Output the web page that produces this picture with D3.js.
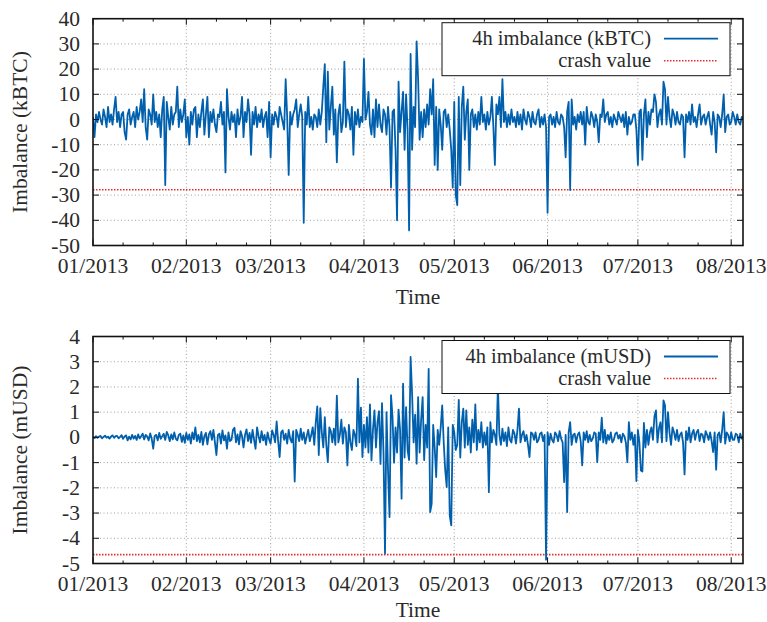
<!DOCTYPE html>
<html lang="en">
<head>
  <meta charset="UTF-8">
  <title>4h imbalance</title>
  <style>
    body { margin: 0; background: #fff; }
    svg text { font-family: "Liberation Serif", "Times New Roman", serif; font-size: 21.5px; fill: #2a2a2a; }
    .grid line { stroke: #a0a0a0; stroke-width: 1; stroke-dasharray: 1,2.5; }
    .series { fill: none; stroke: #0060ad; stroke-width: 1.8; stroke-linejoin: round; }
    .crash { stroke: #e03030; stroke-width: 1.6; stroke-dasharray: 1.5,1.5; }
  </style>
</head>
<body>
  <svg class="chart"></svg>
  <script src="https://cdn.jsdelivr.net/npm/d3@7"></script>
  <script>
    // samples every 12h starting 2013-01-01
    var kbtc = [
      1,-7, 2,-1, 3,0, -2,4, 1,-3, 5,-1, 2,-2, 4,9, -1,3, -3,2,
      3,-5, -8,2, 4,-2, 1,3, -3,5, 0,3, 8,-1, 12,-3, -8,4, 2,-2,
      10,-1, 3,-3, 2,-7, 4,9, -26,7, 1,-4, 5,-2, 2,3, 13,-3, 4,-1,
      2,8, -7,1, -10,3, -2,4, 5,-7, 2,-3, 3,8, -6,2, 9,-7, 3,-1,
      4,-2, -5,2, 1,7, -2,3, -21,12, 1,-4, 3,-1, 2,-7, 4,-2, 1,9,
      -7,3, -1,8, 2,-14, 3,-2, 5,-3, 2,-1, 4,-3, 1,3, -7,7, -15,2,
      -2,3, 1,-3, 5,2, -1,-4, 16,1, -22,3, -2,2, 4,8, -3,2, 6,1,
      -41,3, -2,9, -3,1, -4,2, 1,-3, 4,-2, 3,13, 22,-9, 19,-4, 5,13,
      -6,4, -17,2, 6,-5, -1,23, -3,4, 2,-4, 5,-14, 3,-2, 4,-3, 1,-1,
      24,0, 3,11, -2,-6, 4,-7, 8,-3, 6,-2, -5,4, 2,-6, 5,-3, -27,3,
      4,-12, -40,15, -5,3, 11,-12, 10,-4, -44,26, -12,5, -3,31, 16,-8, 3,-7,
      4,-3, 6,-2, 12,2, 16,-18, 5,-20, 4,-2, -12,3, 4,-3, 2,-4, -12,-27,
      7,-30, -34,9, -26,5, 13,-8, 3,8, -20,2, 4,-3, 2,-4, 3,-2, 9,-1,
      2,-4, 3,-2, 1,9, -3,-18, 6,2, 9,-3, 16,-1, 3,-3, 2,-2, 4,-1,
      1,-3, 3,-2, 2,-4, 4,0, -2,3, 1,-3, 3,-1, -2,2, 4,-3, 1,-2,
      2,-3, -37,1, 2,-2, 1,-3, 3,-1, -2,2, 1,-3, -15,3, 7,-28, 8,-2,
      1,-4, 2,-1, 3,-2, 3,-10, 5,-1, -2,3, 1,-3, 2,-1, -9,2, 1,8,
      -1,2, 3,-2, 1,-3, 2,0, -2,3, 1,-1, 2,-3, 3,-6, 1,-2, -1,2,
      2,-4, -18,3, 4,-16, 2,8, -7,3, -2,4, 3,10, 7,-3, 2,4, -2,15,
      12,-2, 9,1, -3,4, 2,-2, 3,-1, -2,2, 1,-15, 2,-1, 3,-2, 6,-1,
      1,-3, 2,6, -2,1, 2,-2, 1,3, -2,-6, 3,-1, -13,2, 1,-3, 2,10,
      -5,1, 2,-2, -1,3, 1,-2, 2,-1, -2,1, 0
    ];
    var musd = [
      0.02,-0.03, 0.05,-0.02, 0.03,0.06, -0.04,0.02, 0.07,-0.01, 0.03,-0.05, 0.04,0.08, -0.02,0.05, 0.06,-0.04, 0.02,0.09,
      -0.06,0.04, 0.08,-0.12, 0.03,-0.08, 0.1,-0.05, 0.06,-0.1, 0.12,-0.04, 0.05,0.15, -0.08,0.1, 0.04,-0.12, 0.16,-0.05,
      -0.45,0.06, 0.1,-0.12, 0.18,-0.06, 0.05,0.14, -0.1,0.22, 0.08,-0.15, 0.12,-0.08, 0.2,-0.05, -0.12,0.1, 0.15,-0.18,
      0.08,-0.22, 0.18,-0.1, 0.12,-0.25, 0.2,-0.08, 0.4,-0.15, 0.1,-0.2, 0.22,-0.3, 0.05,0.18, -0.28,0.12, 0.25,-0.1,
      0.3,-0.2, -0.7,0.1, 0.15,-0.25, 0.28,-0.12, 0.08,-0.45, 0.2,-0.15, -0.1,0.3, 0.38,-0.2, 0.12,-0.28, 0.25,0.05,
      -0.4,0.1, 0.32,-0.15, 0.18,-0.22, 0.3,-0.1, -0.45,0.4, 0.05,-0.2, 0.25,-0.12, 0.1,-0.3, 0.2,-0.08, -0.25,0.28,
      0.1,-0.2, 0.63,-0.15, -0.78,0.2, 0.28,-0.1, 0.15,-0.25, 0.3,-0.05, -0.2,0.25, -1.75,0.3, 0.1,-0.15, 0.35,-0.1,
      0.2,-0.25, 0.05,0.3, -0.15,0.1, 0.4,-0.3, 0.6,1.23, -0.7,1.16, 0.2,-0.4, 0.8,-0.3, -0.98,0.4, 0.25,-0.2,
      0.35,-0.3, 1.65,-0.2, 0.1,0.7, -0.25,0.4, 0.2,-1.11, 0.5,-0.2, -0.5,0.3, 0.1,-0.35, 2.33,-0.2, 1.18,-0.78,
      0.5,-0.4, 0.8,-0.6, 1.31,-0.91, 0.3,1.07, -0.4,0.6, 1.04,-1.05, 1.36,-0.6, -4.6,1.0, -1.3,-3.16, 1.67,0.8,
      -1.0,0.4, -0.6,1.1, 0.3,-2.43, 2.13,-0.8, 1.2,-0.5, -0.9,3.19, 1.73,-0.2, 0.9,-1.04, 1.6,-0.6, 0.7,1.6,
      -0.9,0.5, -0.4,2.72, -2.96,-2.63, 0.5,-0.4, -1.57,0.3, -0.3,0.4, 1.27,-0.2, -1.3,-1.97, 0.4,-3.1, -3.49,0.5,
      0.2,-0.5, -0.3,1.49, -0.8,0.6, 1.14,-0.4, 1.07,-0.3, 0.4,-0.6, 0.7,-0.2, 1.31,-0.5, 0.3,-0.2, 0.6,-0.4,
      0.2,-0.3, 0.4,-2.17, 0.6,-0.2, 0.3,0.1, -0.3,2.06, 0.1,-0.3, 0.35,-0.15, 0.2,-0.35, 0.4,-0.1, -0.2,0.3,
      0.15,-0.25, 0.3,1.14, -0.2,0.1, 0.25,-0.15, 0.1,-0.3, -0.78,0.2, 0.15,-0.1, 0.2,-0.2, -0.1,0.15, 0.2,-0.15,
      0.1,-4.85, 0.2,-0.3, 0.15,-0.1, -0.2,0.2, 0.1,-0.15, 0.25,-0.05, -0.2,-1.77, 0.1,-2.96, 0.2,0.6, -0.3,0.1,
      0.15,-0.2, 0.1,0.2, -0.15,-1.11, 0.2,-0.1, 0.25,-0.2, 0.1,-0.15, -0.05,0.2, 0.15,-0.98, 0.2,-0.1, 0.78,-0.2,
      0.3,-0.25, 0.1,-0.1, 0.2,-0.2, -0.1,0.15, 0.2,-0.05, 0.1,-0.2, 0.15,0.05, -0.2,-0.98, 0.6,-0.1, 0.2,-0.3,
      0.1,-1.73, 0.3,-0.2, -1.31,-1.35, 0.57,-0.4, 0.3,-0.3, 0.2,0.4, -0.1,0.83, 1.07,-0.2, 0.35,0.6, -0.2,1.47,
      1.27,-0.15, 1.0,0.2, -0.3,0.4, 0.2,-0.1, 0.3,-0.15, 0.1,0.2, -0.2,-1.47, 0.25,-0.1, 0.4,-0.2, 0.15,0.3,
      -0.1,0.2, 0.3,-0.15, 0.15,0.1, -0.2,0.25, 0.1,-0.1, 0.2,-0.15, -0.58,0.2, -1.28,0.1, 0.2,-0.2, 0.3,1.0,
      -0.25,0.2, 0.1,-0.15, 0.2,-0.1, -0.1,0.15, 0.1,-0.2, 0.15,-0.05, 0.05
    ];
    var crashKbtc = -27.9;
    var crashMusd = -4.65;
    var yTicksTop = [-50, -40, -30, -20, -10, 0, 10, 20, 30, 40];
    var yTicksBottom = [-5, -4, -3, -2, -1, 0, 1, 2, 3, 4];
    var legendTop = ["4h imbalance (kBTC)", "crash value"];
    var legendBottom = ["4h imbalance (mUSD)", "crash value"];

    var W = 767, H = 622;
    var start = Date.UTC(2013, 0, 1);
    var step = 12 * 3600 * 1000;

    var svg = d3.select(".chart").attr("width", W).attr("height", H);

    var x = d3.scaleUtc()
      .domain([new Date(start), new Date(Date.UTC(2013, 7, 4, 22))])
      .range([93, 743]);

    var fmt = d3.utcFormat("%m/%Y");
    var months = d3.utcMonth.range(new Date(start), x.domain()[1]);
    var minors = [];
    months.forEach(function(m) {
      [11, 21].forEach(function(day) {
        var t = new Date(Date.UTC(m.getUTCFullYear(), m.getUTCMonth(), day));
        if (t < x.domain()[1]) minors.push(t);
      });
    });

    function panel(cfg) {
      var y = d3.scaleLinear().domain(cfg.domain).range([cfg.bottom, cfg.top]);
      var g = svg.append("g");
      var x0 = x.range()[0], x1 = x.range()[1];

      // grid
      var grid = g.append("g").attr("class", "grid");
      grid.selectAll(".gy").data(cfg.ticks.slice(1, -1)).enter().append("line")
        .attr("x1", x0).attr("x2", x1)
        .attr("y1", function(d) { return y(d); }).attr("y2", function(d) { return y(d); });
      grid.selectAll(".gx").data(months.slice(1)).enter().append("line")
        .attr("y1", cfg.top).attr("y2", cfg.bottom)
        .attr("x1", function(d) { return x(d); }).attr("x2", function(d) { return x(d); });

      // crash line
      g.append("line").attr("class", "crash")
        .attr("x1", x0).attr("x2", x1)
        .attr("y1", y(cfg.crash)).attr("y2", y(cfg.crash));

      // series
      var clipId = "clip" + Math.round(cfg.top);
      svg.append("clipPath").attr("id", clipId).append("rect")
        .attr("x", x0).attr("y", cfg.top).attr("width", x1 - x0).attr("height", cfg.bottom - cfg.top);
      var line = d3.line()
        .x(function(d, i) { return x(new Date(start + i * step)); })
        .y(function(d) { return y(d); });
      g.append("path").datum(cfg.values).attr("class", "series")
        .attr("clip-path", "url(#" + clipId + ")")
        .attr("d", line);

      // frame ticks
      var tk = g.append("g").attr("stroke", "#111").attr("stroke-width", 1);
      cfg.ticks.forEach(function(v) {
        tk.append("line").attr("x1", x0).attr("x2", x0 + 6).attr("y1", y(v)).attr("y2", y(v));
        tk.append("line").attr("x1", x1).attr("x2", x1 - 6).attr("y1", y(v)).attr("y2", y(v));
      });
      months.forEach(function(m) {
        tk.append("line").attr("x1", x(m)).attr("x2", x(m)).attr("y1", cfg.bottom).attr("y2", cfg.bottom - 6);
        tk.append("line").attr("x1", x(m)).attr("x2", x(m)).attr("y1", cfg.top).attr("y2", cfg.top + 6);
      });
      minors.forEach(function(m) {
        tk.append("line").attr("x1", x(m)).attr("x2", x(m)).attr("y1", cfg.bottom).attr("y2", cfg.bottom - 3);
        tk.append("line").attr("x1", x(m)).attr("x2", x(m)).attr("y1", cfg.top).attr("y2", cfg.top + 3);
      });

      g.append("rect")
        .attr("x", x0).attr("y", cfg.top)
        .attr("width", x1 - x0).attr("height", cfg.bottom - cfg.top)
        .attr("fill", "none").attr("stroke", "#111").attr("stroke-width", 1.6);

      // tick labels
      g.selectAll(".yl").data(cfg.ticks).enter().append("text")
        .attr("x", 80).attr("y", function(d) { return y(d); })
        .attr("dy", "0.33em").attr("text-anchor", "end")
        .text(function(d) { return d; });
      g.selectAll(".xl").data(months).enter().append("text")
        .attr("x", function(d) { return x(d); }).attr("y", cfg.bottom + 27)
        .attr("text-anchor", "middle")
        .text(function(d) { return fmt(d); });

      // axis titles
      g.append("text")
        .attr("x", (x0 + x1) / 2).attr("y", cfg.bottom + cfg.titleOff)
        .attr("text-anchor", "middle")
        .text("Time");
      g.append("text")
        .attr("transform", "translate(26.5," + (cfg.top + cfg.bottom) / 2 + ") rotate(-90)")
        .attr("text-anchor", "middle")
        .text(cfg.ylabel);

      // legend
      var lg = g.append("g");
      var ly = cfg.top + 4;
      lg.append("rect").attr("x", 442).attr("y", ly).attr("width", 288).attr("height", 53)
        .attr("fill", "#fff").attr("stroke", "#111").attr("stroke-width", 1);
      lg.append("text").attr("x", 651).attr("y", ly + 16).attr("dy", "0.33em")
        .style("font-size", "20.5px")
        .attr("text-anchor", "end").text(cfg.legend[0]);
      lg.append("text").attr("x", 651).attr("y", ly + 38).attr("dy", "0.33em")
        .style("font-size", "20.5px")
        .attr("text-anchor", "end").text(cfg.legend[1]);
      lg.append("line").attr("x1", 664).attr("x2", 718).attr("y1", ly + 16).attr("y2", ly + 16)
        .attr("stroke", "#0060ad").attr("stroke-width", 1.8);
      lg.append("line").attr("class", "crash").attr("x1", 664).attr("x2", 718)
        .attr("y1", ly + 38).attr("y2", ly + 38);
    }

    panel({top: 18.7, bottom: 245.5, domain: [-50, 40], ticks: yTicksTop, values: kbtc,
      crash: crashKbtc, ylabel: "Imbalance (kBTC)", legend: legendTop, titleOff: 58});
    panel({top: 336.5, bottom: 563.5, domain: [-5, 4], ticks: yTicksBottom, values: musd,
      crash: crashMusd, ylabel: "Imbalance (mUSD)", legend: legendBottom, titleOff: 53});
  </script>
</body>
</html>
